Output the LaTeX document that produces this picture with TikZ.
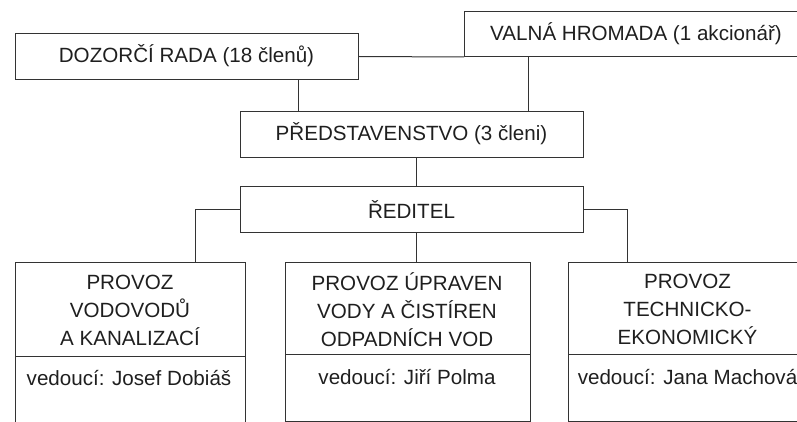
\documentclass[tikz,border=0pt]{standalone}
\usepackage{fontspec}
\setmainfont{Liberation Sans}
\begin{document}
\begin{tikzpicture}[x=1pt,y=-1pt,
  line width=1pt,
  every node/.style={text=black!88},
  box/.style={draw=black!80,line width=1pt,rectangle,inner sep=0pt,anchor=north west},
  lbl/.style={font=\fontsize{20.6}{28}\selectfont,align=center,inner sep=0pt},
  conn/.style={draw=black!80,line width=1pt}]
\path[use as bounding box,clip] (0,0) rectangle (797,422);
% top boxes
\node[box,minimum width=343pt,minimum height=46pt] (doz) at (15,33) {};
\node[lbl] (dozt) at (186.5,56) {DOZORČÍ RADA (18 členů)};
\node[box,minimum width=344pt,minimum height=45pt] (val) at (464,11) {};
\node[lbl] (valt) at (636,33.5) {VALNÁ HROMADA (1 akcionář)};
\node[box,minimum width=343pt,minimum height=46pt] (pred) at (240,111) {};
\node[lbl] (predt) at (411.5,134) {PŘEDSTAVENSTVO (3 členi)};
\node[box,minimum width=343pt,minimum height=46pt] (red) at (240,186) {};
\node[lbl] (redt) at (411.5,209) {ŘEDITEL};
% bottom boxes
\node[box,minimum width=230pt,minimum height=164pt] (b1) at (15,262) {};
\node[box,minimum width=245pt,minimum height=159pt] (b2) at (285,262) {};
\node[box,minimum width=240pt,minimum height=159pt] (b3) at (568,262) {};
\draw[conn] (b1.west |- 0,356) -- (b1.east |- 0,356);
\draw[conn] (b2.west |- 0,354) -- (b2.east |- 0,354);
\draw[conn] (b3.west |- 0,354) -- (b3.east |- 0,354);
\node[lbl] (b1t) at (130,310) {PROVOZ\\VODOVODŮ\\A KANALIZACÍ};
\node[lbl] (b2t) at (407,309.5) {PROVOZ ÚPRAVEN\\VODY A ČISTÍREN\\ODPADNÍCH VOD};
\node[lbl] (b3t) at (687.5,309) {PROVOZ\\TECHNICKO-\\EKONOMICKÝ};
\node[lbl] (b1v) at (129,378) {vedoucí: Josef Dobiáš};
\node[lbl] (b2v) at (407,377) {vedoucí: Jiří Polma};
\node[lbl] (b3v) at (687.5,377) {vedoucí: Jana Machová};
% connectors
\draw[conn] (doz.east) -- (val.south west);
\draw[conn] (298,0 |- doz.south) -- (298,0 |- pred.north);
\draw[conn] (528.5,0 |- val.south) -- (528.5,0 |- pred.north);
\draw[conn] (416,0 |- pred.south) -- (416,0 |- red.north);
\draw[conn] (red.west) -| (195,0 |- b1.north);
\draw[conn] (416,0 |- red.south) -- (416,0 |- b2.north);
\draw[conn] (red.east) -| (627,0 |- b3.north);
\end{tikzpicture}
\end{document}
